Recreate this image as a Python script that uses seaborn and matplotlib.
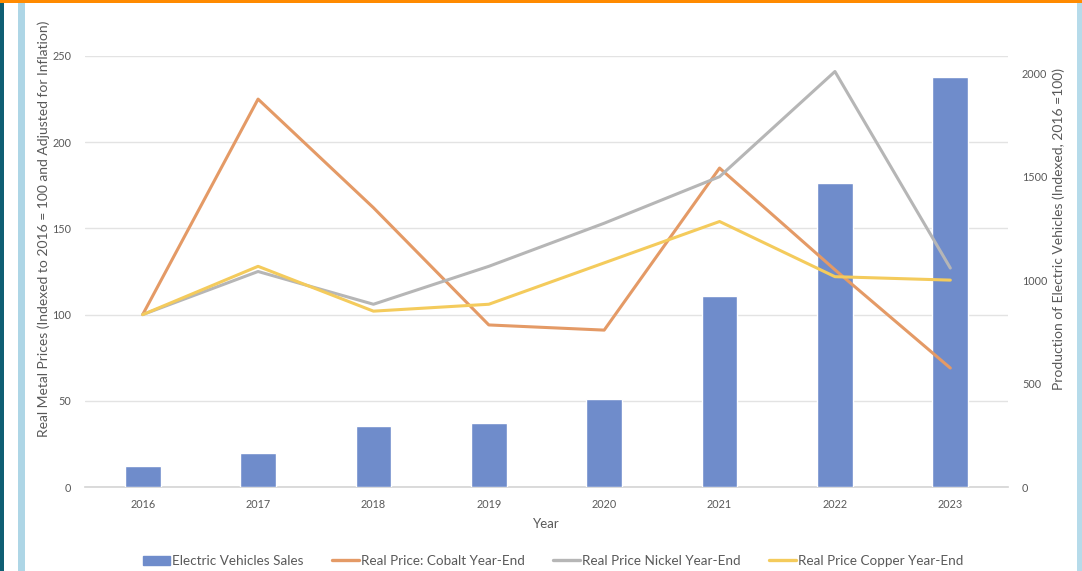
import numpy as np
import pandas as pd
import seaborn as sns
import matplotlib.pyplot as plt
from matplotlib.patches import Patch, Rectangle
from matplotlib.lines import Line2D

# values
years = [2016, 2017, 2018, 2019, 2020, 2021, 2022, 2023]
ev_sales = [100, 165, 295, 310, 425, 923, 1468, 1981]
cobalt = [100, 225, 162, 94, 91, 185, 126, 69]
nickel = [100, 125, 106, 128, 153, 180, 241, 127]
copper = [100, 128, 102, 106, 130, 154, 122, 120]

metal_names = ["Real Price: Cobalt Year-End", "Real Price Nickel Year-End", "Real Price Copper Year-End"]
bar_name = "Electric Vehicles Sales"

c_bar = "#6f8ccb"
c_cobalt = "#e49a66"
c_nickel = "#b6b6b6"
c_copper = "#f4cb5c"
txt = "#595959"

sns.set_theme(style="white")
plt.rcParams['font.family'] = ['Lato', 'DejaVu Sans']

df = pd.DataFrame({"Year": years * 3,
                   "Price": cobalt + nickel + copper,
                   "Metal": [metal_names[0]] * 8 + [metal_names[1]] * 8 + [metal_names[2]] * 8})

fig = plt.figure(figsize=(10.82, 5.71), dpi=100)
fig.patch.set_facecolor("white")

# frame decorations
fig.add_artist(Rectangle((0, 1 - 3 / 571), 1, 3 / 571, transform=fig.transFigure, color="#ff8a00", lw=0))
fig.add_artist(Rectangle((0, 0), 4 / 1082, 1 - 3 / 571, transform=fig.transFigure, color="#0f5f73", lw=0))
fig.add_artist(Rectangle((18 / 1082, 0), 7 / 1082, 1 - 3 / 571, transform=fig.transFigure, color="#aed6e6", lw=0))
fig.add_artist(Rectangle((1077 / 1082, 0), 5 / 1082, 1 - 3 / 571, transform=fig.transFigure, color="#b6dbea", lw=0))

ax = fig.add_axes([85 / 1082, 1 - 487 / 571, 923 / 1082, 431 / 571])
ax2 = ax.twinx()
ax3 = ax.twinx()

# bottom axes: left scale + grid
ax.set_ylim(0, 250)
ax.set_yticks(range(0, 251, 50))
ax.grid(axis="y", color="#e3e3e3", lw=1)
ax.set_axisbelow(True)

# bars (right scale)
sns.barplot(x=years, y=ev_sales, ax=ax2, native_scale=True, width=0.31,
            color=c_bar, saturation=1, zorder=2)
ax2.set_ylim(0, 2083)
ax2.set_yticks(range(0, 2001, 500))

# lines on top, same scale as left axis
sns.lineplot(data=df, x="Year", y="Price", hue="Metal", ax=ax3,
             palette=[c_cobalt, c_nickel, c_copper], lw=2.2, legend=False)
ax3.set_ylim(0, 250)
ax3.yaxis.set_visible(False)

for a in (ax, ax2, ax3):
    a.set_xlim(2015.5, 2023.5)
    for s in a.spines.values():
        s.set_visible(False)
    a.tick_params(length=0, labelsize=7.8, colors=txt)
ax.spines["bottom"].set_visible(True)
ax.spines["bottom"].set_color("#d6d6d6")
ax.set_xticks(years)
ax.set_xticklabels([str(y) for y in years])
ax.tick_params(axis="x", pad=9)
ax.tick_params(axis="y", pad=10)
ax2.tick_params(axis="y", pad=10)
ax3.set_xlabel("")

ax.set_xlabel("Year", fontsize=9.5, color=txt)
ax.xaxis.set_label_coords(0.4995, -0.072)
ax.set_ylabel("Real Metal Prices (Indexed to 2016 = 100 and Adjusted for Inflation)", fontsize=10, color=txt)
ax.yaxis.set_label_coords(-0.038, 0.599)
ax2.set_ylabel("Production of Electric Vehicles (Indexed, 2016 =100)", fontsize=10, color=txt)
ax2.yaxis.set_label_coords(1.048, 0.599)

handles = [Patch(color=c_bar),
           Line2D([], [], color=c_cobalt, lw=2.4),
           Line2D([], [], color=c_nickel, lw=2.4),
           Line2D([], [], color=c_copper, lw=2.4)]
labels = [bar_name] + metal_names
fig.legend(handles, labels, loc="center", bbox_to_anchor=(0.511, 0.0175), ncol=4,
           frameon=False, fontsize=9.7, labelcolor=txt, handlelength=2.0,
           handleheight=0.6, handletextpad=0.15, columnspacing=2.1)

fig.savefig("out.png", dpi=100, facecolor="white")
